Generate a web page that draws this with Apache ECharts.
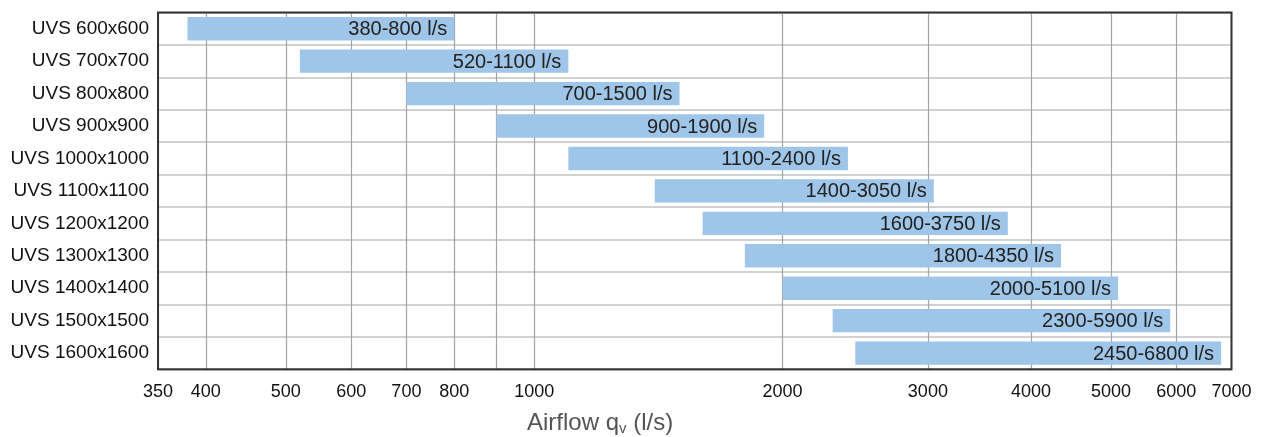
<!DOCTYPE html>
<html>
<head>
<meta charset="utf-8">
<style>
html,body{margin:0;padding:0;background:#fff;}
#chart{width:1262px;height:437px;}
</style>
<script src="https://cdn.jsdelivr.net/npm/echarts@6/dist/echarts.min.js"></script>
</head>
<body>
<div id="chart"></div>
<script>
const categories = ['UVS 600x600','UVS 700x700','UVS 800x800','UVS 900x900','UVS 1000x1000','UVS 1100x1100','UVS 1200x1200','UVS 1300x1300','UVS 1400x1400','UVS 1500x1500','UVS 1600x1600'];
const minFlow = [380, 520, 700, 900, 1100, 1400, 1600, 1800, 2000, 2300, 2450];
const maxFlow = [800, 1100, 1500, 1900, 2400, 3050, 3750, 4350, 5100, 5900, 6800];
const gridValues = [350, 400, 500, 600, 700, 800, 900, 1000, 2000, 3000, 4000, 5000, 6000, 7000];
const tickLabels = [350, 400, 500, 600, 700, 800, 1000, 2000, 3000, 4000, 5000, 6000, 7000];

const FONT = '"Liberation Sans", Arial, Helvetica, sans-serif';
const data = categories.map((c, i) => [i, minFlow[i], maxFlow[i], minFlow[i] + '-' + maxFlow[i] + ' l/s']);

const chart = echarts.init(document.getElementById('chart'), null, {renderer: 'canvas'});
chart.setOption({
  animation: false,
  backgroundColor: '#ffffff',
  grid: {
    left: 158, right: 30.5, top: 12.5, bottom: 67.7,
    show: true, borderColor: '#333', borderWidth: 2, backgroundColor: 'transparent', z: 10
  },
  xAxis: {
    type: 'log', logBase: 10, min: 350, max: 7000,
    axisLine: {show: false},
    axisTick: {show: false, customValues: gridValues},
    splitLine: {show: true, lineStyle: {color: '#a3a3a3', width: 1.2}},
    minorSplitLine: {show: false},
    axisLabel: {
      customValues: tickLabels, margin: 14,
      fontFamily: FONT, fontSize: 18, color: '#111',
      formatter: v => String(Math.round(v)),
      showMinLabel: true, showMaxLabel: true, hideOverlap: false
    }
  },
  yAxis: {
    type: 'category', data: categories, inverse: true,
    axisLine: {show: false}, axisTick: {show: false},
    splitLine: {show: true, lineStyle: {color: '#c2c2c2', width: 1.6}},
    axisLabel: {margin: 9, fontFamily: FONT, fontSize: 19, color: '#111', interval: 0}
  },
  graphic: [{
    type: 'text', left: 527, top: 411, z: 100,
    style: {
      text: 'Airflow q{sub|v} (l/s)',
      font: '24px ' + FONT, fill: '#555',
      rich: {sub: {fontSize: 15, fontFamily: FONT, fill: '#555', padding: [11, 0, 0, 0]}}
    }
  }],
  series: [{
    type: 'custom',
    data: data,
    encode: {x: [1, 2], y: 0},
    clip: false,
    renderItem: function (params, api) {
      const idx = api.value(0);
      const p0 = api.coord([api.value(1), idx]);
      const p1 = api.coord([api.value(2), idx]);
      const band = params.coordSys.height / categories.length;
      const h = band * 0.72;
      return {
        type: 'group',
        children: [{
          type: 'rect',
          shape: {x: p0[0], y: p0[1] - h / 2, width: p1[0] - p0[0], height: h},
          style: {fill: '#9fc5e8'}
        }, {
          type: 'text',
          x: p1[0] - 7, y: p0[1] + 1,
          style: {
            text: data[params.dataIndex][3],
            align: 'right', verticalAlign: 'middle',
            font: '20px ' + FONT, fill: '#222'
          }
        }]
      };
    }
  }]
});
</script>
</body>
</html>
